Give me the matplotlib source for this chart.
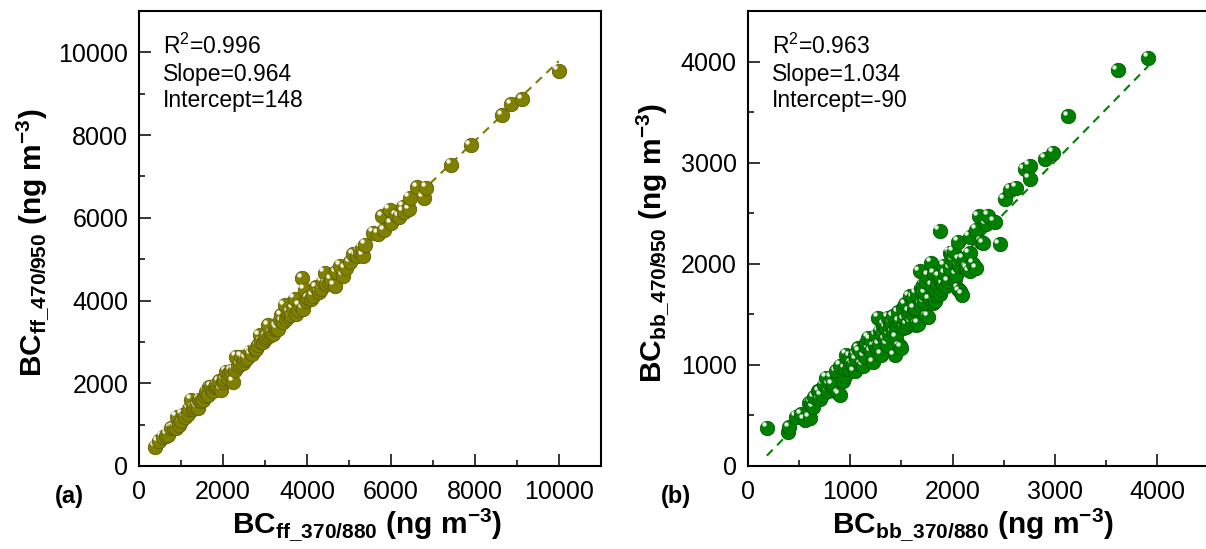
import matplotlib
matplotlib.use("Agg")
import matplotlib.pyplot as plt
from matplotlib.ticker import MultipleLocator
from matplotlib.transforms import ScaledTranslation
import numpy as np

plt.rcParams["font.family"] = ["Liberation Sans", "DejaVu Sans"]
plt.rcParams["mathtext.fontset"] = "custom"
plt.rcParams["mathtext.rm"] = "Liberation Sans"
plt.rcParams["mathtext.bf"] = "Liberation Sans:bold"
plt.rcParams["mathtext.default"] = "bf"

# panel (a): fossil fuel BC
ff_370_880 = [382, 459, 557, 636, 680, 756, 820, 876, 890, 955, 1000, 1036, 1100, 1160, 1195,
              1233, 1275, 1300, 1352, 1394, 1432, 1480, 1520, 1560, 1594, 1640, 1670, 1713,
              1760, 1800, 1833, 1870, 1910, 1952, 1992, 2030, 2068, 2110, 2150, 2190, 2231,
              2271, 2311, 2350, 2390, 2430, 2470, 2510, 2560, 2629, 2680, 2749, 2790, 2829,
              2869, 2903, 2950, 2988, 3030, 3068, 3102, 3150, 3187, 3230, 3267, 3300, 3347,
              3386, 3420, 3466, 3500, 3540, 3580, 3625, 3665, 3705, 3739, 3780, 3820, 3888,
              3904, 3944, 3984, 4030, 4104, 4150, 4223, 4280, 4330, 4375, 4422, 4462, 4520,
              4580, 4661, 4701, 4781, 4861, 4920, 5020, 5100, 5180, 5250, 5299, 5339, 5380,
              5578, 5700, 5791, 5830, 5966, 6000, 6125, 6200, 6285, 6300, 6428, 6444, 6619,
              6777, 6841, 7438, 7900, 8655, 8870, 9132, 10000]
ff_470_950 = [470, 600, 700, 720, 760, 912, 930, 920, 1190, 1000, 1080, 1240, 1180, 1260, 1384,
              1600, 1370, 1420, 1460, 1400, 1600, 1560, 1600, 1680, 1800, 1720, 1900, 1920,
              1820, 1900, 1960, 1920, 2050, 1840, 2040, 2100, 2280, 2130, 2240, 2300, 2040,
              2320, 2640, 2420, 2460, 2640, 2480, 2560, 2600, 2760, 2700, 2840, 2820, 2920,
              3160, 3000, 3000, 3080, 3120, 3400, 3150, 3200, 3200, 3300, 3360, 3320, 3520,
              3640, 3480, 3880, 3560, 3620, 3700, 3640, 3800, 4040, 3680, 3760, 3880, 4536,
              3800, 4264, 4000, 4050, 4040, 4120, 4320, 4200, 4280, 4456, 4664, 4400, 4450,
              4500, 4360, 4680, 4840, 4600, 4780, 4920, 5120, 5080, 5180, 5280, 5080, 5350,
              5640, 5620, 6035, 5700, 6187, 5870, 6060, 6020, 6271, 6150, 6203, 6482, 6735,
              6482, 6718, 7284, 7748, 8482, 8745, 8862, 9560]
ff_stats = [r"R$^\mathrm{2}$=0.996", "Slope=0.964", "Intercept=148"]
ff_slope, ff_intercept = 0.964, 148

# panel (b): biomass burning BC
bb_370_880 = [186, 391, 401, 473, 522, 554, 600, 603, 619, 636, 650, 685, 700, 701, 720, 740,
              766, 782, 799, 820, 830, 864, 880, 897, 900, 929, 946, 950, 962, 980, 990, 1000,
              1011, 1027, 1043, 1050, 1060, 1076, 1092, 1109, 1125, 1140, 1150, 1157, 1174,
              1190, 1200, 1206, 1222, 1239, 1255, 1260, 1272, 1280, 1288, 1300, 1310, 1320,
              1330, 1340, 1353, 1360, 1369, 1380, 1390, 1400, 1418, 1420, 1434, 1450, 1451,
              1467, 1470, 1483, 1483, 1500, 1516, 1516, 1530, 1540, 1549, 1560, 1565, 1580,
              1581, 1600, 1614, 1614, 1620, 1630, 1647, 1650, 1663, 1679, 1690, 1695, 1705,
              1712, 1720, 1730, 1744, 1744, 1760, 1760, 1775, 1793, 1800, 1809, 1820, 1826,
              1842, 1842, 1850, 1858, 1875, 1875, 1880, 1890, 1907, 1920, 1930, 1940, 1956,
              1972, 1980, 1989, 2005, 2010, 2020, 2038, 2054, 2054, 2060, 2070, 2070, 2096,
              2110, 2130, 2140, 2168, 2168, 2168, 2200, 2233, 2233, 2256, 2282, 2298, 2331,
              2347, 2412, 2461, 2510, 2566, 2624, 2706, 2755, 2755, 2902, 2983, 3130, 3612,
              3912]
bb_470_950 = [375, 338, 383, 487, 510, 459, 620, 477, 625, 579, 680, 740, 740, 658, 700, 800,
              872, 740, 803, 870, 800, 938, 717, 707, 990, 839, 890, 960, 1102, 1060, 960, 1080,
              1010, 1003, 938, 1100, 1050, 1165, 1135, 1003, 993, 1080, 1180, 1217, 1266,
              1150, 1250, 1135, 1027, 1184, 1286, 1180, 1464, 1200, 1332, 1100, 1300, 1372,
              1400, 1250, 1365, 1200, 1464, 1300, 1380, 1420, 1321, 1480, 1096, 1350, 1266,
              1398, 1520, 1183, 1424, 1168, 1562, 1365, 1450, 1600, 1372, 1400, 1500, 1680,
              1530, 1420, 1661, 1493, 1550, 1560, 1398, 1700, 1407, 1924, 1760, 1595, 1717,
              1793, 1620, 1700, 1480, 1821, 1476, 1880, 1650, 2007, 1780, 1612, 1900, 1631,
              1694, 1734, 1800, 1865, 2326, 1872, 1700, 1750, 1793, 1980, 1900, 1780, 1826,
              2107, 1950, 2089, 2027, 2120, 1850, 1891, 2217, 1752, 1980, 2045, 1727, 1693,
              2050, 1960, 1950, 2105, 2269, 1924, 2000, 1957, 2338, 2469, 2217, 2204, 2390,
              2476, 2417, 2193, 2638, 2734, 2752, 2934, 2969, 2838, 3038, 3096, 3458, 3913,
              4034]
bb_stats = [r"R$^\mathrm{2}$=0.963", "Slope=1.034", "Intercept=-90"]
bb_slope, bb_intercept = 1.034, -90


def draw_balls(fig, ax, xs, ys, color, edge):
    # each ball = body + small white highlight, stacked point by point
    shift = ScaledTranslation(-2.4 / 72, 2.6 / 72, fig.dpi_scale_trans)
    for i, (xv, yv) in enumerate(zip(xs, ys)):
        ax.scatter([xv], [yv], s=108, color=color, edgecolors=edge, linewidths=0.6,
                   zorder=3 + 2 * i)
        ax.scatter([xv], [yv], s=10, color="white", alpha=0.9, linewidths=0,
                   zorder=4 + 2 * i, transform=ax.transData + shift)


def style_axes(ax, lim, major, minor):
    ax.set_xlim(0, lim)
    ax.set_ylim(0, lim)
    ax.xaxis.set_major_locator(MultipleLocator(major))
    ax.xaxis.set_minor_locator(MultipleLocator(minor))
    ax.yaxis.set_major_locator(MultipleLocator(major))
    ax.yaxis.set_minor_locator(MultipleLocator(minor))
    ax.tick_params(which="both", direction="in", width=1.1, labelsize=18)
    ax.tick_params(axis="x", pad=10)
    ax.tick_params(axis="y", pad=8)
    ax.tick_params(which="major", length=8.5)
    ax.tick_params(which="minor", length=4)
    for sp in ax.spines.values():
        sp.set_linewidth(1.5)


fig = plt.figure(figsize=(12.06, 5.49), dpi=100)
ax_a = fig.add_axes([0.1155, 0.1512, 0.3826, 0.8288])
ax_b = fig.add_axes([0.6201, 0.1512, 0.3819, 0.8288])

# (a)
xa = np.array(ff_370_880, dtype=float)
line_x = np.array([xa.min(), xa.max()])
ax_a.plot(line_x, ff_slope * line_x + ff_intercept, color="#808000", lw=1.5,
          ls=(0, (4, 3)), zorder=2)
draw_balls(fig, ax_a, ff_370_880, ff_470_950, "#808000", "#5e5e00")
style_axes(ax_a, 11000, 2000, 1000)
ax_a.text(0.052, 0.95, "\n".join(ff_stats), transform=ax_a.transAxes, fontsize=16.5,
          va="top", ha="left", linespacing=1.2)
ax_a.set_xlabel(r"BC$_{ff\_370/880}$ (ng m$^{-3}$)", fontsize=21.5, fontweight="bold")
ax_a.set_ylabel(r"BC$_{ff\_470/950}$ (ng m$^{-3}$)", fontsize=21.5, fontweight="bold")
ax_a.xaxis.set_label_coords(0.493, -0.09)
ax_a.yaxis.set_label_coords(-0.19, 0.49)

# (b)
xb = np.array(bb_370_880, dtype=float)
line_x = np.array([xb.min(), xb.max()])
ax_b.plot(line_x, bb_slope * line_x + bb_intercept, color="#008000", lw=1.5,
          ls=(0, (4, 3)), zorder=2)
draw_balls(fig, ax_b, bb_370_880, bb_470_950, "#008000", "#005c00")
style_axes(ax_b, 4500, 1000, 500)
ax_b.text(0.052, 0.95, "\n".join(bb_stats), transform=ax_b.transAxes, fontsize=16.5,
          va="top", ha="left", linespacing=1.2)
ax_b.set_xlabel(r"BC$_{bb\_370/880}$ (ng m$^{-3}$)", fontsize=21.5, fontweight="bold")
ax_b.set_ylabel(r"BC$_{bb\_470/950}$ (ng m$^{-3}$)", fontsize=21.5, fontweight="bold")
ax_b.xaxis.set_label_coords(0.489, -0.09)
ax_b.yaxis.set_label_coords(-0.165, 0.49)

fig.text(69 / 1206, 1 - 497 / 549, "(a)", fontsize=17, fontweight="bold",
         ha="center", va="center")
fig.text(676 / 1206, 1 - 497 / 549, "(b)", fontsize=17, fontweight="bold",
         ha="center", va="center")

fig.savefig("out.png", dpi=100)
